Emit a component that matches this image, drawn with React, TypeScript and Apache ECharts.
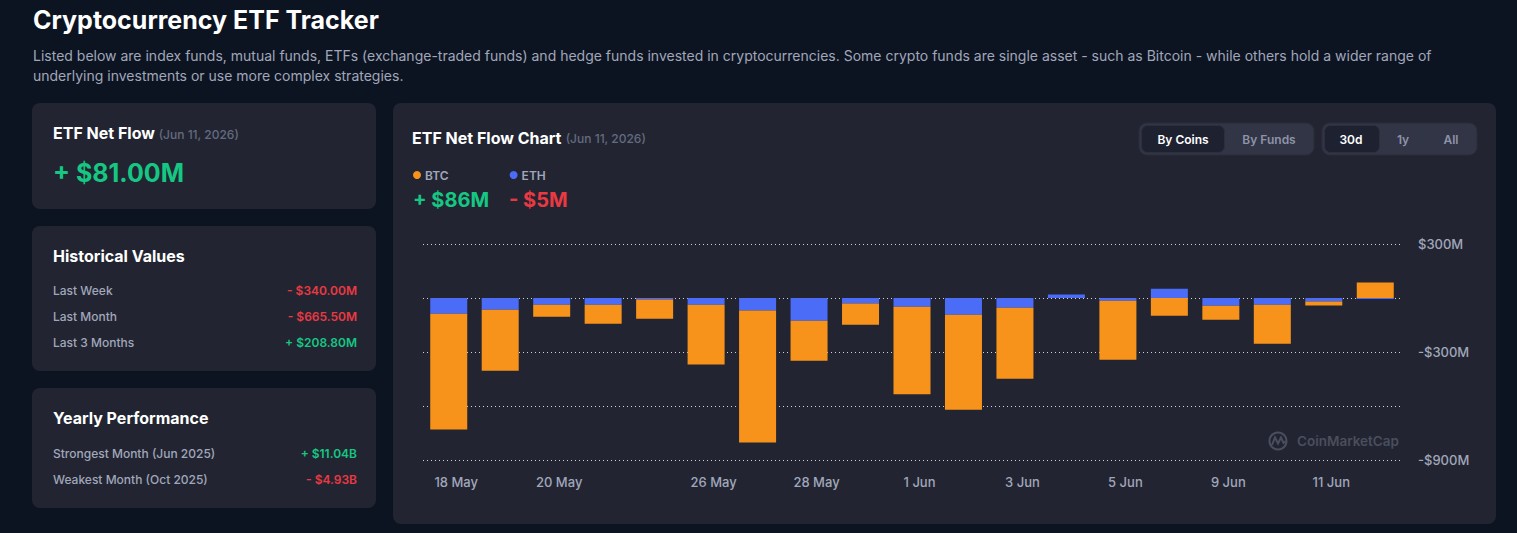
import React, { useEffect, useRef } from "react";
import * as echarts from "echarts";

// Daily ETF net flow, in millions of USD
const dates = [
  "18 May", "19 May", "20 May", "21 May", "22 May", "26 May", "27 May", "28 May", "29 May",
  "1 Jun", "2 Jun", "3 Jun", "4 Jun", "5 Jun", "8 Jun", "9 Jun", "10 Jun", "11 Jun", "12 Jun",
];
const labeledDates = ["18 May", "20 May", "26 May", "28 May", "1 Jun", "3 Jun", "5 Jun", "9 Jun", "11 Jun"];
const btcFlow = [-644, -339, -67, -106, -106, -333, -733, -222, -117, -487, -528, -394, 0, -328, -98, -78, -217, -22, 86];
const ethFlow = [-87, -65, -37, -37, -9, -37, -70, -126, -31, -48, -93, -54, 20, -15, 52, -43, -37, -20, -5];

const yMin = -900;
const yMax = 300;
const yStep = 300;

const coinNames = ["BTC", "ETH"];
const coinColors = ["#F7931A", "#4A6CF7"];
const coinTotals = ["+ $86M", "- $5M"];

const historicalRows = [
  { label: "Last Week", value: "- $340.00M", up: false },
  { label: "Last Month", value: "- $665.50M", up: false },
  { label: "Last 3 Months", value: "+ $208.80M", up: true },
];
const yearlyRows = [
  { label: "Strongest Month (Jun 2025)", value: "+ $11.04B", up: true },
  { label: "Weakest Month (Oct 2025)", value: "- $4.93B", up: false },
];

const FONT = "Inter, 'Noto Sans', sans-serif";
const GREEN = "#16C784";
const RED = "#EA3943";
const MUTED = "#A1A7BB";
const DIM = "#646B80";
const CARD = "#222531";
const PAGE = "#0D1421";

function Txt(props: {
  x: number;
  y: number;
  size: number;
  weight?: number;
  color: string;
  right?: boolean;
  children: React.ReactNode;
}) {
  const lh = Math.round(props.size * 1.3);
  const style: React.CSSProperties = {
    position: "absolute",
    top: props.y - lh / 2,
    fontSize: props.size,
    lineHeight: lh + "px",
    fontWeight: props.weight ?? 400,
    color: props.color,
    whiteSpace: "nowrap",
    fontFamily: FONT,
  };
  if (props.right) style.right = 1517 - props.x;
  else style.left = props.x;
  return <div style={style}>{props.children}</div>;
}

function Card(props: { x: number; y: number; w: number; h: number; children?: React.ReactNode }) {
  return (
    <div
      style={{
        position: "absolute",
        left: props.x,
        top: props.y,
        width: props.w,
        height: props.h,
        background: CARD,
        borderRadius: 8,
      }}
    >
      {props.children}
    </div>
  );
}

function FlowChart() {
  const ref = useRef<HTMLDivElement>(null);

  useEffect(() => {
    if (!ref.current) return;
    const chart = echarts.init(ref.current, undefined, { renderer: "svg" });

    const fmtMoney = (v: number) => (v < 0 ? "-" : "") + "$" + Math.abs(v) + "M";

    const button = (label: string, cx: number, active: boolean) => ({
      type: "text",
      x: cx,
      y: 36,
      style: {
        text: label,
        fill: active ? "#FFFFFF" : "#8E93A8",
        font: `600 12px ${FONT}`,
        align: "center",
        verticalAlign: "middle",
      },
    });

    chart.setOption({
      animation: false,
      backgroundColor: "transparent",
      textStyle: { fontFamily: FONT },
      title: {
        left: 19,
        top: 25,
        padding: 0,
        text: "{a|ETF Net Flow Chart} {b|(Jun 11, 2026)}",
        textStyle: {
          rich: {
            a: { fontSize: 16, fontWeight: 700, color: "#FFFFFF", fontFamily: FONT, lineHeight: 20 },
            b: { fontSize: 12, fontWeight: 500, color: DIM, fontFamily: FONT, lineHeight: 20 },
          },
        },
      },
      legend: {
        data: coinNames,
        left: 20,
        top: 66,
        padding: 0,
        icon: "circle",
        itemWidth: 8,
        itemHeight: 8,
        itemGap: 61,
        selectedMode: false,
        textStyle: { color: MUTED, fontSize: 12, fontWeight: 600, fontFamily: FONT, padding: [0, 0, 0, -1] },
      },
      grid: { left: 30, right: 95, top: 141, bottom: 64 },
      xAxis: {
        type: "category",
        data: dates,
        axisLine: { show: false },
        axisTick: { show: false },
        axisLabel: {
          interval: (_i: number, v: string) => labeledDates.includes(v),
          color: MUTED,
          fontSize: 13,
          fontWeight: 500,
          margin: 15,
          padding: [0, 0, 0, 15],
        },
      },
      yAxis: {
        type: "value",
        position: "right",
        min: yMin,
        max: yMax,
        interval: yStep,
        axisLine: { show: false },
        axisTick: { show: false },
        axisLabel: {
          color: MUTED,
          fontSize: 13,
          fontWeight: 500,
          margin: 17,
          formatter: (v: number) => (((v - yMin) / yStep) % 2 === 0 ? fmtMoney(v) : ""),
        },
        splitLine: { lineStyle: { color: "rgba(255,255,255,0.8)", width: 1, type: [1, 3] } },
      },
      series: [
        {
          name: "ETH",
          type: "bar",
          stack: "flow",
          barWidth: 37,
          data: ethFlow,
          itemStyle: { color: coinColors[1] },
        },
        {
          name: "BTC",
          type: "bar",
          stack: "flow",
          barWidth: 37,
          data: btcFlow,
          itemStyle: { color: coinColors[0] },
        },
      ],
      graphic: [
        {
          type: "text",
          x: 20,
          y: 97,
          style: { text: coinTotals[0], fill: GREEN, font: `700 20px ${FONT}`, verticalAlign: "middle" },
        },
        {
          type: "text",
          x: 116,
          y: 97,
          style: { text: coinTotals[1], fill: RED, font: `700 20px ${FONT}`, verticalAlign: "middle" },
        },
        // toggle groups
        {
          type: "rect",
          shape: { x: 746, y: 20, width: 175, height: 32, r: 8 },
          style: { fill: "#323546", stroke: "#2A2D3B", lineWidth: 1 },
        },
        {
          type: "rect",
          shape: { x: 748.5, y: 22.5, width: 83, height: 27, r: 6 },
          style: { fill: "#1E2130", stroke: "#2C2F3E", lineWidth: 1 },
        },
        button("By Coins", 790, true),
        button("By Funds", 876, false),
        {
          type: "rect",
          shape: { x: 929, y: 20, width: 155, height: 32, r: 8 },
          style: { fill: "#323546", stroke: "#2A2D3B", lineWidth: 1 },
        },
        {
          type: "rect",
          shape: { x: 931.5, y: 22.5, width: 55, height: 27, r: 6 },
          style: { fill: "#1E2130", stroke: "#2C2F3E", lineWidth: 1 },
        },
        button("30d", 958, true),
        button("1y", 1010, false),
        button("All", 1058, false),
        // watermark
        {
          type: "circle",
          shape: { cx: 885, cy: 338, r: 8.5 },
          style: { fill: "none", stroke: "#4A4E5D", lineWidth: 2 },
        },
        {
          type: "polyline",
          shape: { points: [[879, 342], [882, 334.5], [885, 340.5], [888, 334.5], [890.5, 340], [893, 338]] },
          style: { fill: "none", stroke: "#4A4E5D", lineWidth: 2 },
        },
        {
          type: "text",
          x: 904,
          y: 338,
          style: { text: "CoinMarketCap", fill: "#4A4E5D", font: `600 13.5px ${FONT}`, verticalAlign: "middle" },
        },
      ],
    });

    return () => chart.dispose();
  }, []);

  return <div ref={ref} style={{ width: 1103, height: 421 }} />;
}

export default function App() {
  useEffect(() => {
    document.body.style.margin = "0";
    document.body.style.background = PAGE;
  }, []);

  return (
    <div
      style={{
        position: "absolute",
        left: 0,
        top: 0,
        width: 1517,
        height: 533,
        background: PAGE,
        overflow: "hidden",
        fontFamily: FONT,
      }}
    >
      <Txt x={33} y={20} size={25} weight={700} color="#FFFFFF">
        Cryptocurrency ETF Tracker
      </Txt>
      <Txt x={33} y={56} size={14} color={MUTED}>
        Listed below are index funds, mutual funds, ETFs (exchange-traded funds) and hedge funds invested in
        cryptocurrencies. Some crypto funds are single asset - such as Bitcoin - while others hold a wider range of
      </Txt>
      <Txt x={33} y={76} size={14} color={MUTED}>
        underlying investments or use more complex strategies.
      </Txt>

      <Card x={32} y={103} w={344} h={106} />
      <Txt x={53} y={133} size={16} weight={700} color="#FFFFFF">
        ETF Net Flow <span style={{ fontSize: 12, fontWeight: 500, color: DIM }}>(Jun 11, 2026)</span>
      </Txt>
      <Txt x={53} y={173} size={25} weight={700} color={GREEN}>
        + $81.00M
      </Txt>

      <Card x={32} y={226} w={344} h={145} />
      <Txt x={53} y={256} size={16} weight={700} color="#FFFFFF">
        Historical Values
      </Txt>
      {historicalRows.map((r, i) => (
        <React.Fragment key={r.label}>
          <Txt x={53} y={291 + i * 26} size={12} weight={500} color={MUTED}>
            {r.label}
          </Txt>
          <Txt x={357} y={291 + i * 26} size={12} weight={600} color={r.up ? GREEN : RED} right>
            {r.value}
          </Txt>
        </React.Fragment>
      ))}

      <Card x={32} y={388} w={344} h={120} />
      <Txt x={53} y={418} size={16} weight={700} color="#FFFFFF">
        Yearly Performance
      </Txt>
      {yearlyRows.map((r, i) => (
        <React.Fragment key={r.label}>
          <Txt x={53} y={454 + i * 26} size={12} weight={500} color={MUTED}>
            {r.label}
          </Txt>
          <Txt x={357} y={454 + i * 26} size={12} weight={600} color={r.up ? GREEN : RED} right>
            {r.value}
          </Txt>
        </React.Fragment>
      ))}

      <Card x={393} y={103} w={1103} h={421}>
        <FlowChart />
      </Card>
    </div>
  );
}
